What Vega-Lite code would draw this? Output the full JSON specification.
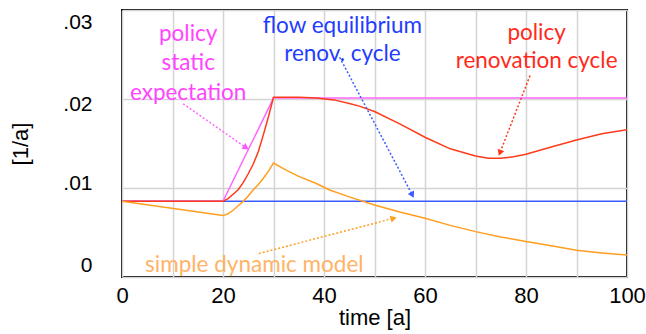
{
  "$schema": "https://vega.github.io/schema/vega-lite/v6.json",
  "width": 505,
  "height": 267,
  "autosize": {"type": "none"},
  "padding": {"left": 122, "top": 10, "right": 19, "bottom": 57},
  "config": {
    "view": {"stroke": "black", "strokeWidth": 2},
    "font": "Liberation Sans",
    "axis": {"labelFont": "Liberation Sans", "titleFont": "Liberation Sans", "labelColor": "black", "titleColor": "black", "titleFontWeight": "normal"}
  },
  "datasets": {
    "lines": [
      {"series": "flow equilibrium renov. cycle", "t": 0, "v": 0.0085},
      {"series": "flow equilibrium renov. cycle", "t": 100, "v": 0.0085},
      {"series": "policy static expectation", "t": 0, "v": 0.0085},
      {"series": "policy static expectation", "t": 20, "v": 0.0085},
      {"series": "policy static expectation", "t": 30, "v": 0.0201},
      {"series": "policy static expectation", "t": 100, "v": 0.0201},
      {"series": "policy renovation cycle", "t": 0, "v": 0.0085},
      {"series": "policy renovation cycle", "t": 20, "v": 0.0085},
      {"series": "policy renovation cycle", "t": 21, "v": 0.0088},
      {"series": "policy renovation cycle", "t": 22, "v": 0.0093},
      {"series": "policy renovation cycle", "t": 23, "v": 0.0098},
      {"series": "policy renovation cycle", "t": 24, "v": 0.0106},
      {"series": "policy renovation cycle", "t": 25, "v": 0.0116},
      {"series": "policy renovation cycle", "t": 26, "v": 0.0127},
      {"series": "policy renovation cycle", "t": 27, "v": 0.0141},
      {"series": "policy renovation cycle", "t": 28, "v": 0.0160},
      {"series": "policy renovation cycle", "t": 29, "v": 0.0180},
      {"series": "policy renovation cycle", "t": 30, "v": 0.0202},
      {"series": "policy renovation cycle", "t": 35, "v": 0.0202},
      {"series": "policy renovation cycle", "t": 38.5, "v": 0.0201},
      {"series": "policy renovation cycle", "t": 42, "v": 0.0199},
      {"series": "policy renovation cycle", "t": 45, "v": 0.0195},
      {"series": "policy renovation cycle", "t": 47, "v": 0.0192},
      {"series": "policy renovation cycle", "t": 50, "v": 0.0186},
      {"series": "policy renovation cycle", "t": 55, "v": 0.0172},
      {"series": "policy renovation cycle", "t": 60, "v": 0.0157},
      {"series": "policy renovation cycle", "t": 65, "v": 0.0144},
      {"series": "policy renovation cycle", "t": 70, "v": 0.0136},
      {"series": "policy renovation cycle", "t": 72.5, "v": 0.01335},
      {"series": "policy renovation cycle", "t": 75, "v": 0.01335},
      {"series": "policy renovation cycle", "t": 77.5, "v": 0.0135},
      {"series": "policy renovation cycle", "t": 80, "v": 0.0138},
      {"series": "policy renovation cycle", "t": 85, "v": 0.0146},
      {"series": "policy renovation cycle", "t": 90, "v": 0.0154},
      {"series": "policy renovation cycle", "t": 95, "v": 0.0161},
      {"series": "policy renovation cycle", "t": 100, "v": 0.01655},
      {"series": "simple dynamic model", "t": 0, "v": 0.0085},
      {"series": "simple dynamic model", "t": 20, "v": 0.0069},
      {"series": "simple dynamic model", "t": 21, "v": 0.0071},
      {"series": "simple dynamic model", "t": 22, "v": 0.0075},
      {"series": "simple dynamic model", "t": 23, "v": 0.0080},
      {"series": "simple dynamic model", "t": 24, "v": 0.0085},
      {"series": "simple dynamic model", "t": 25, "v": 0.0091},
      {"series": "simple dynamic model", "t": 26, "v": 0.0098},
      {"series": "simple dynamic model", "t": 27, "v": 0.0104},
      {"series": "simple dynamic model", "t": 28, "v": 0.0111},
      {"series": "simple dynamic model", "t": 29, "v": 0.0119},
      {"series": "simple dynamic model", "t": 30, "v": 0.0128},
      {"series": "simple dynamic model", "t": 32.5, "v": 0.0120},
      {"series": "simple dynamic model", "t": 35, "v": 0.0113},
      {"series": "simple dynamic model", "t": 38.5, "v": 0.0105},
      {"series": "simple dynamic model", "t": 41, "v": 0.0098},
      {"series": "simple dynamic model", "t": 45, "v": 0.0090},
      {"series": "simple dynamic model", "t": 50, "v": 0.0081},
      {"series": "simple dynamic model", "t": 55, "v": 0.0073},
      {"series": "simple dynamic model", "t": 60, "v": 0.0066},
      {"series": "simple dynamic model", "t": 65, "v": 0.0058},
      {"series": "simple dynamic model", "t": 70, "v": 0.0051},
      {"series": "simple dynamic model", "t": 75, "v": 0.0045},
      {"series": "simple dynamic model", "t": 80, "v": 0.0040},
      {"series": "simple dynamic model", "t": 85, "v": 0.0035},
      {"series": "simple dynamic model", "t": 90, "v": 0.0030},
      {"series": "simple dynamic model", "t": 95, "v": 0.0027},
      {"series": "simple dynamic model", "t": 100, "v": 0.00246}
    ],
    "arrows": [
      {"series": "policy static expectation", "x1": 12.1, "y1": 0.01946, "x2": 24.4, "y2": 0.0146},
      {"series": "flow equilibrium renov. cycle", "x1": 43.1, "y1": 0.02469, "x2": 57.4, "y2": 0.00932},
      {"series": "policy renovation cycle", "x1": 80.8, "y1": 0.02263, "x2": 74.9, "y2": 0.01405},
      {"series": "simple dynamic model", "x1": 27.1, "y1": 0.00264, "x2": 53.6, "y2": 0.00657}
    ],
    "labels": [
      {"series": "policy static expectation", "x": 13.1, "y": 0.02734, "text": "policy"},
      {"series": "policy static expectation", "x": 13.1, "y": 0.02409, "text": "static"},
      {"series": "policy static expectation", "x": 13.1, "y": 0.02062, "text": "expectation"},
      {"series": "flow equilibrium renov. cycle", "x": 43.65, "y": 0.02824, "text": "flow equilibrium"},
      {"series": "flow equilibrium renov. cycle", "x": 43.65, "y": 0.0251, "text": "renov. cycle"},
      {"series": "policy renovation cycle", "x": 82.1, "y": 0.02745, "text": "policy"},
      {"series": "policy renovation cycle", "x": 82.1, "y": 0.02431, "text": "renovation cycle"},
      {"series": "simple dynamic model", "x": 26.2, "y": 0.00133, "text": "simple dynamic model"}
    ]
  },
  "layer": [
    {
      "data": {"name": "lines"},
      "mark": {"type": "line", "strokeWidth": 1.5, "interpolate": "linear"},
      "encoding": {
        "x": {"field": "t", "type": "quantitative", "scale": {"domain": [0, 100], "nice": false},
          "axis": {"values": [0, 10, 20, 30, 40, 50, 60, 70, 80, 90, 100], "labelExpr": "datum.value % 20 == 0 ? datum.label : ''", "labelFlush": false, "grid": true, "gridColor": "#d4d4d4", "gridWidth": 1.5, "ticks": false, "domain": false, "labelFontSize": 22, "labelPadding": 8, "title": "time [a]", "titleFontSize": 22, "titlePadding": 1}},
        "y": {"field": "v", "type": "quantitative", "scale": {"domain": [0, 0.03], "nice": false},
          "axis": {"values": [0, 0.01, 0.02, 0.03], "labelExpr": "datum.value == 0 ? '0' : '.0' + round(datum.value * 100)", "labelFlush": false, "grid": true, "gridColor": "#d4d4d4", "gridWidth": 1.5, "ticks": false, "domain": false, "labelFontSize": 21, "labelPadding": 30,
            "labelOffset": {"condition": [{"test": "datum.value == 0", "value": -12}, {"test": "datum.value == 0.01", "value": -5}, {"test": "datum.value == 0.02", "value": 5}], "value": 12},
            "title": "[1/a]", "titleFontSize": 22, "titlePadding": 30}},
        "color": {"field": "series", "type": "nominal", "legend": null, "sort": null,
          "scale": {"domain": ["flow equilibrium renov. cycle", "policy static expectation", "policy renovation cycle", "simple dynamic model"], "range": ["#3a5cff", "#ff66ff", "#ff3a1a", "#ff9e1f"]}},
        "order": {"value": 0}
      }
    },
    {
      "data": {"name": "arrows"},
      "mark": {"type": "rule", "strokeWidth": 1.5, "strokeDash": [2, 2]},
      "encoding": {
        "x": {"field": "x1", "type": "quantitative"},
        "y": {"field": "y1", "type": "quantitative"},
        "x2": {"field": "x2"},
        "y2": {"field": "y2"},
        "color": {"field": "series", "type": "nominal", "legend": null,
          "scale": {"domain": ["flow equilibrium renov. cycle", "policy static expectation", "policy renovation cycle", "simple dynamic model"], "range": ["#3a5cff", "#ff66ff", "#ff3a1a", "#ff9e1f"]}}
      }
    },
    {
      "data": {"name": "arrows"},
      "transform": [{"filter": "datum.series == 'policy static expectation'"}],
      "mark": {"type": "point", "shape": "triangle", "filled": true, "opacity": 1, "size": 50, "angle": 125, "color": "#ff55ff"},
      "encoding": {"x": {"field": "x2", "type": "quantitative"}, "y": {"field": "y2", "type": "quantitative"}}
    },
    {
      "data": {"name": "arrows"},
      "transform": [{"filter": "datum.series == 'flow equilibrium renov. cycle'"}],
      "mark": {"type": "point", "shape": "triangle", "filled": true, "opacity": 1, "size": 50, "angle": 152, "color": "#3a5cff"},
      "encoding": {"x": {"field": "x2", "type": "quantitative"}, "y": {"field": "y2", "type": "quantitative"}}
    },
    {
      "data": {"name": "arrows"},
      "transform": [{"filter": "datum.series == 'policy renovation cycle'"}],
      "mark": {"type": "point", "shape": "triangle", "filled": true, "opacity": 1, "size": 50, "angle": 201, "color": "#ff3a1a"},
      "encoding": {"x": {"field": "x2", "type": "quantitative"}, "y": {"field": "y2", "type": "quantitative"}}
    },
    {
      "data": {"name": "arrows"},
      "transform": [{"filter": "datum.series == 'simple dynamic model'"}],
      "mark": {"type": "point", "shape": "triangle", "filled": true, "opacity": 1, "size": 50, "angle": 75, "color": "#ff9e1f"},
      "encoding": {"x": {"field": "x2", "type": "quantitative"}, "y": {"field": "y2", "type": "quantitative"}}
    },
    {
      "data": {"name": "labels"},
      "mark": {"type": "text", "font": "Lato", "fontSize": 22.5, "align": "center", "baseline": "middle"},
      "encoding": {
        "x": {"field": "x", "type": "quantitative"},
        "y": {"field": "y", "type": "quantitative"},
        "text": {"field": "text"},
        "color": {"field": "series", "type": "nominal", "legend": null,
          "scale": {"domain": ["flow equilibrium renov. cycle", "policy static expectation", "policy renovation cycle", "simple dynamic model"], "range": ["#1f3dff", "#ff44ff", "#ff2a1a", "#ffb366"]}}
      }
    }
  ],
  "resolve": {"scale": {"color": "independent"}}
}
